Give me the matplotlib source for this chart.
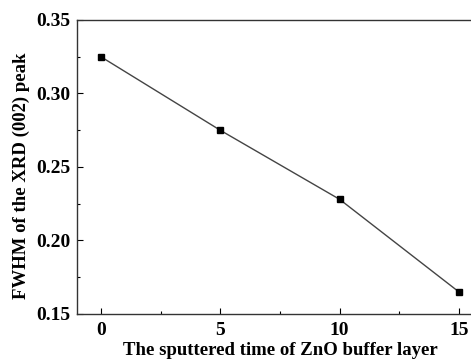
import matplotlib
matplotlib.use("Agg")
import matplotlib.pyplot as plt
from matplotlib.ticker import MultipleLocator

x_time = [0, 5, 10, 15]
fwhm = [0.325, 0.275, 0.228, 0.165]
x_ticks = [0, 5, 10, 15]
y_ticks = [0.15, 0.20, 0.25, 0.30, 0.35]

plt.rcParams['font.family'] = ['Liberation Serif', 'DejaVu Serif']
plt.rcParams['font.weight'] = 'bold'

fig = plt.figure(figsize=(4.71, 3.6), dpi=100)
ax = fig.add_axes([0.1635, 0.1278, 0.8616, 0.8167])
ax.plot(x_time, fwhm, color='#444444', lw=1.0, marker='s', ms=5,
        mfc='black', mec='black')
ax.set_xlim(-1, 16)
ax.set_ylim(0.15, 0.35)
ax.set_xticks(x_ticks)
ax.set_yticks(y_ticks)
ax.set_yticklabels([f"{v:.2f}" for v in y_ticks])
ax.xaxis.set_minor_locator(MultipleLocator(2.5))
ax.yaxis.set_minor_locator(MultipleLocator(0.025))
ax.tick_params(which='major', direction='in', length=4, width=0.8,
               labelsize=14, pad=5)
ax.tick_params(axis='x', which='major', pad=6)
ax.tick_params(which='minor', direction='in', length=2.5, width=0.8)
for lab in ax.get_xticklabels() + ax.get_yticklabels():
    lab.set_fontweight('bold')
for s in ax.spines.values():
    s.set_linewidth(1.0)
    s.set_color('#333333')
ax.set_xlabel('The sputtered time of ZnO buffer layer', fontsize=13.5,
              fontweight='bold', labelpad=2)
ax.set_ylabel('FWHM of the XRD (002) peak', fontsize=13.5,
              fontweight='bold')
ax.yaxis.set_label_coords(-0.117, 0.47)
fig.savefig('out.png', dpi=100)
